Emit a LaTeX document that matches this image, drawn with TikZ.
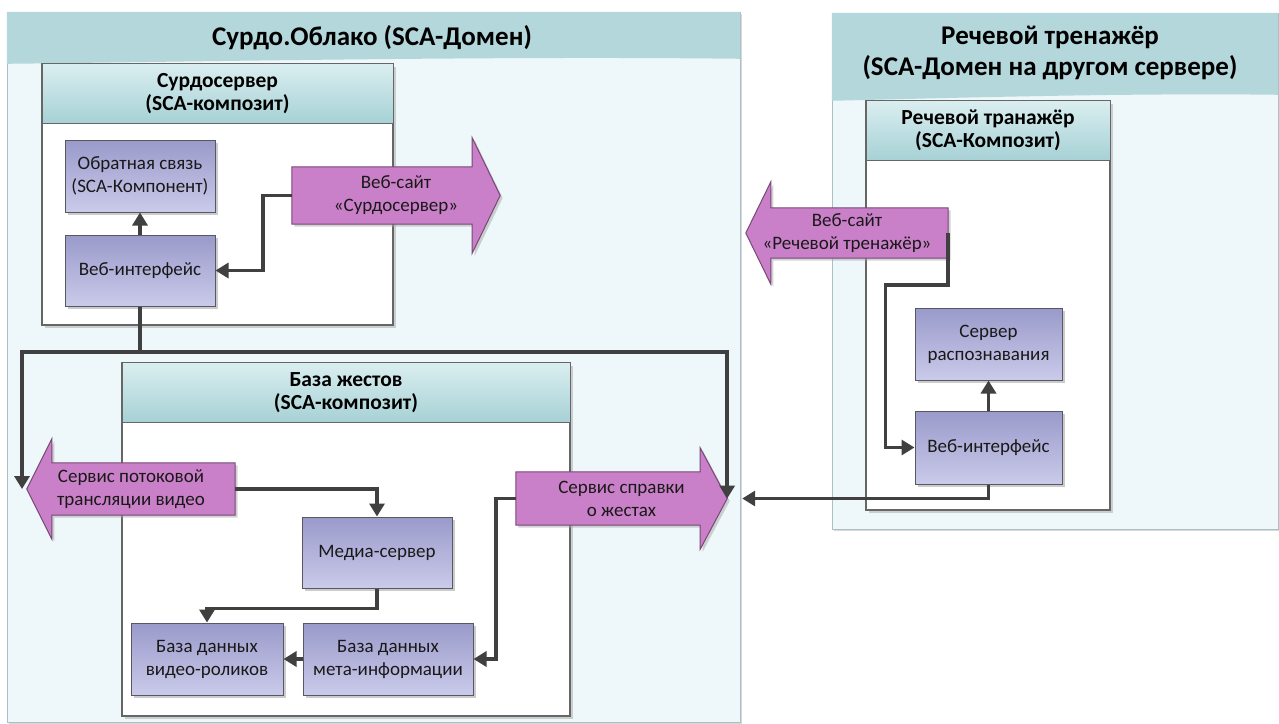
\documentclass[tikz,border=0pt]{standalone}
\usepackage{fontspec}
\setmainfont{Carlito}
\usetikzlibrary{calc,arrows.meta,positioning,shadows}

\definecolor{domfill}{RGB}{238,247,249}
\definecolor{domband}{RGB}{180,215,220}
\definecolor{domline}{RGB}{170,192,197}
\definecolor{headtop}{RGB}{218,238,240}
\definecolor{headbot}{RGB}{166,209,213}
\definecolor{comptop}{RGB}{154,154,203}
\definecolor{compbot}{RGB}{202,202,234}
\definecolor{compline}{RGB}{88,88,98}
\definecolor{arrfill}{RGB}{202,128,200}
\definecolor{arrline}{RGB}{118,72,118}
\definecolor{conncol}{RGB}{64,64,64}
\definecolor{txt}{RGB}{25,25,25}

\pgfdeclarelayer{back}
\pgfdeclarelayer{fat}
\pgfsetlayers{back,fat,main}

\tikzset{
  domainbox/.style={draw=domline, fill=domfill, inner sep=0pt,
    drop shadow={shadow xshift=1.5pt, shadow yshift=-1.5pt, fill=black!30}},
  domtitle/.style={font=\fontsize{27}{31}\selectfont\bfseries, align=center, text=black},
  composite/.style={draw=black!60, line width=1.5pt, fill=white, inner sep=0pt,
    drop shadow={shadow xshift=2.5pt, shadow yshift=-2.5pt, fill=black!35}},
  comphead/.style={draw=black!60, line width=1pt, top color=headtop, bottom color=headbot,
    minimum height=60pt, inner sep=0pt, font=\fontsize{21.5}{23}\selectfont\bfseries,
    align=center, text=black},
  component/.style={draw=compline, line width=1pt, top color=comptop, bottom color=compbot,
    inner sep=0pt, font=\fontsize{19}{23}\selectfont, text=txt, align=center,
    drop shadow={shadow xshift=3pt, shadow yshift=-3pt, fill=black!40}},
  bigarrow/.style={draw=arrline, fill=arrfill, line width=1pt,
    drop shadow={shadow xshift=2.5pt, shadow yshift=-2.5pt, fill=black!35}},
  arrtext/.style={inner sep=0pt, font=\fontsize{19}{23}\selectfont, text=txt, align=center},
  conn/.style={draw=conncol, line width=3.8pt, -{Triangle[length=13pt,width=15pt]}}
}

\begin{document}
\begin{tikzpicture}[x=1pt,y=-1pt]
\useasboundingbox (0,0) rectangle (1279,723);

\begin{pgfonlayer}{back}
  \fill[white] (0,0) rectangle (1279,723);
  % domains
  \node[domainbox, minimum width=733pt, minimum height=710pt] (cloud) at (373.5,367) {};
  \fill[domband] (cloud.north west) -- (cloud.north east) -- ++(0,47)
    .. controls ($(cloud.north)+(120,44)$) and ($(cloud.north)+(-180,50)$) .. ($(cloud.north west)+(0,52)$) -- cycle;
  \node[domainbox, minimum width=446pt, minimum height=516pt] (trDom) at (1055,271) {};
  \fill[domband] (trDom.north west) -- (trDom.north east) -- ++(0,82)
    .. controls ($(trDom.north)+(80,80)$) and ($(trDom.north)+(-100,85)$) .. ($(trDom.north west)+(0,88)$) -- cycle;

  % composites
  \node[composite, minimum width=351pt, minimum height=261pt] (surdo) at (217.5,194.5) {};
  \node[comphead, minimum width=351pt, anchor=north] (surdoHead) at (surdo.north) {Сурдосервер\\(SCA-композит)};
  \node[composite, minimum width=448pt, minimum height=353pt] (gest) at (346,539.5) {};
  \node[comphead, minimum width=448pt, anchor=north] (gestHead) at (gest.north) {База жестов\\(SCA-композит)};
  \node[composite, minimum width=244pt, minimum height=409pt] (trComp) at (988,305.5) {};
  \node[comphead, minimum width=244pt, anchor=north] (trHead) at (trComp.north) {Речевой транажёр\\(SCA-Композит)};
\end{pgfonlayer}

\node[domtitle] (cloudTitle) at (372,38) {Сурдо.Облако (SCA-Домен)};
\node[domtitle] (trTitle) at (1050,53) {Речевой тренажёр\\(SCA-Домен на другом сервере)};

% components
\node[component, minimum width=150pt, minimum height=72pt] (feedback) at (140,176) {Обратная связь\\(SCA-Компонент)};
\node[component, minimum width=150pt, minimum height=71pt, below=22pt of feedback] (surdoWeb) {Веб-интерфейс};
\node[component, minimum width=150pt, minimum height=71pt] (media) at (377,552.5) {Медиа-сервер};
\node[component, minimum width=152pt, minimum height=72pt] (vidDB) at (207,659) {База данных\\видео-роликов};
\node[component, minimum width=170pt, minimum height=72pt, right=19pt of vidDB] (metaDB) {База данных\\мета-информации};
\node[component, minimum width=147pt, minimum height=72pt] (recog) at (988.5,344) {Сервер\\распознавания};
\node[component, minimum width=147pt, minimum height=73pt, below=30pt of recog] (trWeb) {Веб-интерфейс};

% services
\node[arrtext, minimum width=208pt, minimum height=57pt] (siteS) at (396,195.5) {Веб-сайт\\«Сурдосервер»};
\node[arrtext, minimum width=208pt, minimum height=52pt] (stream) at (131,489) {Сервис потоковой\\трансляции видео};
\node[arrtext, minimum width=211pt, minimum height=53pt] (ref) at (621.5,498.5) {Сервис справки\\о жестах};
\node[arrtext, minimum width=202pt, minimum height=50pt] (siteTr) at (847,233) {Веб-сайт\\«Речевой тренажёр»};

\begin{pgfonlayer}{fat}
  \filldraw[bigarrow] (siteS.north west) -- ($(siteS.north east)+(-28,0)$) -- ++(0,-29) -- (siteS.east)
    -- ($(siteS.south east)+(-28,29)$) -- ++(0,-29) -- (siteS.south west) -- cycle;
  \filldraw[bigarrow] (stream.north east) -- ($(stream.north west)+(25,0)$) -- ++(0,-24) -- (stream.west)
    -- ($(stream.south west)+(25,24)$) -- ++(0,-24) -- (stream.south east) -- cycle;
  \filldraw[bigarrow] (ref.north west) -- ($(ref.north east)+(-27,0)$) -- ++(0,-24) -- (ref.east)
    -- ($(ref.south east)+(-27,24)$) -- ++(0,-24) -- (ref.south west) -- cycle;
  \filldraw[bigarrow] (siteTr.north east) -- ($(siteTr.north west)+(25,0)$) -- ++(0,-26) -- (siteTr.west)
    -- ($(siteTr.south west)+(25,26)$) -- ++(0,-26) -- (siteTr.south east) -- cycle;
\end{pgfonlayer}

% connectors
\coordinate (bus) at (22,352);
\draw[conn] (surdoWeb) -- (feedback);
\draw[conn] (siteS.west) -- ++(-29,0) |- (surdoWeb.east);
\draw[conn] (surdoWeb.south) |- (bus) -- (bus |- stream.west);
\draw[conn] (surdoWeb.south) |- (ref.east |- bus) -- (ref.east);
\draw[conn] (stream.east) -| (media.north);
\draw[conn] (media.south) -- ++(0,20) -| (vidDB.north);
\draw[conn] (metaDB) -- (vidDB);
\draw[conn] (ref.west) -- ++(-20,0) |- (metaDB.east);
\draw[conn] (trWeb.south) |- ($(cloud.east |- ref.east)+(2,0)$);
\draw[conn] (siteTr.east) -- ++(0,52) -| ($(trWeb.west)+(-29,0)$) -- (trWeb.west);
\draw[conn] (trWeb) -- (recog);
\end{tikzpicture}
\end{document}
